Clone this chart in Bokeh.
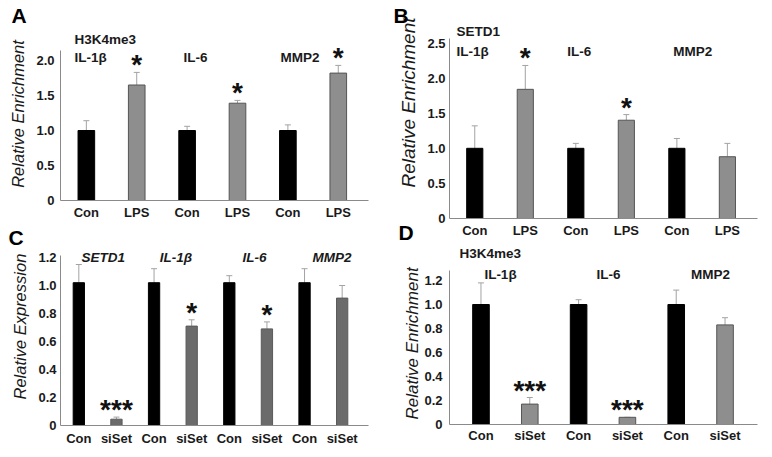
from bokeh.plotting import figure
from bokeh.models import ColumnDataSource, Whisker, TeeHead, Label, FixedTicker, Range1d, Title
from bokeh.layouts import row, column
from bokeh.core.properties import value
from bokeh.embed import file_html
from bokeh.resources import INLINE

FONT = "Liberation Sans"

# ---------------- data ----------------
# Panel A: H3K4me3 ChIP, Con vs LPS
a_groups = ["Con", "LPS", "Con", "LPS", "Con", "LPS"]
a_values = [1.00, 1.65, 1.00, 1.39, 1.00, 1.82]
a_errors = [0.14, 0.18, 0.06, 0.04, 0.08, 0.11]
a_marks = ["", "*", "", "*", "", "*"]
a_yticks = [0, 0.5, 1.0, 1.5, 2.0]
a_ylabels = ["0", "0.5", "1.0", "1.5", "2.0"]
a_genes = ["IL-1β", "IL-6", "MMP2"]

# Panel B: SETD1 ChIP, Con vs LPS
b_groups = ["Con", "LPS", "Con", "LPS", "Con", "LPS"]
b_values = [1.00, 1.84, 1.00, 1.40, 1.00, 0.88]
b_errors = [0.32, 0.34, 0.07, 0.08, 0.14, 0.19]
b_marks = ["", "*", "", "*", "", ""]
b_yticks = [0, 0.5, 1.0, 1.5, 2.0, 2.5]
b_ylabels = ["0", "0.5", "1.0", "1.5", "2.0", "2.5"]
b_genes = ["IL-1β", "IL-6", "MMP2"]

# Panel C: expression, Con vs siSet
c_groups = ["Con", "siSet", "Con", "siSet", "Con", "siSet", "Con", "siSet"]
c_values = [1.02, 0.045, 1.02, 0.71, 1.02, 0.69, 1.02, 0.91]
c_errors = [0.13, 0.015, 0.10, 0.045, 0.05, 0.05, 0.10, 0.09]
c_marks = ["", "***", "", "*", "", "*", "", ""]
c_yticks = [0, 0.2, 0.4, 0.6, 0.8, 1.0, 1.2]
c_ylabels = ["0", "0.2", "0.4", "0.6", "0.8", "1.0", "1.2"]
c_genes = ["SETD1", "IL-1β", "IL-6", "MMP2"]

# Panel D: H3K4me3 ChIP, Con vs siSet
d_groups = ["Con", "siSet", "Con", "siSet", "Con", "siSet"]
d_values = [1.00, 0.17, 1.00, 0.06, 1.00, 0.83]
d_errors = [0.18, 0.055, 0.04, 0.0, 0.12, 0.06]
d_marks = ["", "***", "", "***", "", ""]
d_yticks = [0, 0.2, 0.4, 0.6, 0.8, 1.0, 1.2]
d_ylabels = ["0", "0.2", "0.4", "0.6", "0.8", "1.0", "1.2"]
d_genes = ["IL-1β", "IL-6", "MMP2"]


def lab(p, text, sx, sy, size="13.5px", style="bold", align="left"):
    p.add_layout(Label(x=sx, y=sy, x_units="screen", y_units="screen", text=text,
                       text_font=FONT, text_font_size=size, text_font_style=style,
                       text_align=align, text_baseline="middle",
                       text_color="#1a1a1a"))


def panel(w, h, ml, mr, mt, mb, xr, ytop, ybound, groups, values, errors, marks,
          yticks, ylabels, treat_fill, treat_line, bar_w, xstand, ystand,
          letter, letter_off, ytitle, ytitle_size, ytitle_off, ytitle_standoff,
          ytitle_valign):
    p = figure(width=w, height=h, x_range=Range1d(*xr), y_range=Range1d(0, ytop),
               toolbar_location=None, output_backend="svg",
               min_border_left=ml, min_border_right=mr,
               min_border_top=mt, min_border_bottom=mb)
    p.outline_line_color = None
    p.xgrid.visible = False
    p.ygrid.visible = False
    p.background_fill_color = None
    p.border_fill_color = None
    n = len(groups)
    xs = list(range(n))
    fills = ["#000000" if g == "Con" else treat_fill for g in groups]
    lines = ["#000000" if g == "Con" else treat_line for g in groups]
    upper = [v + e for v, e in zip(values, errors)]
    src = ColumnDataSource(dict(x=xs, val=values, upper=upper, fill=fills,
                                line=lines, mark=marks))
    p.add_layout(Whisker(source=src, base="x", upper="upper", lower="val",
                         dimension="height", line_color="#a3a3a3", line_width=1,
                         upper_head=TeeHead(size=6, line_color="#a3a3a3", line_width=1),
                         lower_head=None, level="underlay"))
    p.vbar(x="x", top="val", bottom=0, width=bar_w, fill_color="fill",
           line_color="line", line_width=1, source=src)
    p.text(x="x", y="upper", text="mark", source=src, text_font=value(FONT),
           text_font_style="bold", text_font_size="28px", text_align="center",
           text_baseline="alphabetic", y_offset=-7.5, text_color="#111111")
    for ax in (p.xaxis[0], p.yaxis[0]):
        ax.axis_line_color = "#8a8a8a"
        ax.axis_line_width = 1
        ax.major_tick_line_color = None
        ax.minor_tick_line_color = None
        ax.major_tick_out = 0
        ax.major_tick_in = 0
        ax.minor_tick_out = 0
        ax.minor_tick_in = 0
        ax.major_label_text_font = FONT
        ax.major_label_text_font_style = "bold"
        ax.major_label_text_font_size = "13px"
        ax.major_label_text_color = "#1a1a1a"
    p.xaxis.ticker = FixedTicker(ticks=xs)
    p.xaxis.major_label_overrides = {i: g for i, g in enumerate(groups)}
    p.xaxis.major_label_standoff = xstand
    p.yaxis.ticker = FixedTicker(ticks=yticks)
    p.yaxis.major_label_overrides = {t: s for t, s in zip(yticks, ylabels)}
    p.yaxis.major_label_standoff = ystand
    p.yaxis.bounds = (0, ybound)
    # panel letter
    p.title.text = letter
    p.title.align = "left"
    p.title.offset = letter_off
    p.title.standoff = 0
    p.title.vertical_align = "bottom"
    p.title.text_font = FONT
    p.title.text_font_size = "21px"
    p.title.text_font_style = "bold"
    p.title.text_color = "#000000"
    # y-axis title
    p.add_layout(Title(text=ytitle, align="left", offset=ytitle_off,
                       standoff=ytitle_standoff, vertical_align=ytitle_valign,
                       text_font=FONT, text_font_size=ytitle_size,
                       text_font_style="italic", text_color="#1a1a1a"), "left")
    return p


# Panel A  canvas (0,0) 390x222, frame x 59..375, y 26..200
pA = panel(390, 222, 59, 15, 26, 22, (-0.513, 5.6), 174 / 70.0, 2.14,
           a_groups, a_values, a_errors, a_marks, a_yticks, a_ylabels,
           "#8e8e8e", "#555555", 0.33, 4, 6,
           "A", -49, "Relative Enrichment", "16.5px", 12.7, 13, "bottom")
lab(pA, "H3K4me3", 14, 161)
lab(pA, a_genes[0], 14, 143)
lab(pA, a_genes[1], 123, 143)
lab(pA, a_genes[2], 220, 143)

# Panel B  canvas (390,0) 382x240, frame x 448..765, y 26..218
pB = panel(382, 240, 58, 7, 26, 22, (-0.5, 5.596), 192 / 70.2, 2.56,
           b_groups, b_values, b_errors, b_marks, b_yticks, b_ylabels,
           "#8e8e8e", "#555555", 0.32, 4, 4,
           "B", -56, "Relative Enrichment", "19px", 31, 11, "bottom")
lab(pB, "SETD1", 7, 187)
lab(pB, b_genes[0], 7, 167)
lab(pB, b_genes[1], 117.7, 167)
lab(pB, b_genes[2], 223.7, 167)

# Panel C  canvas (0,222) 390x235, frame x 57..368, y 248..425
pC = panel(390, 235, 57, 22, 26, 32, (-0.487, 7.70), 177 / 140.0, 1.214,
           c_groups, c_values, c_errors, c_marks, c_yticks, c_ylabels,
           "#6b6b6b", "#5a5a5a", 0.30, 5, 4,
           "C", -52, "Relative Expression", "16.5px", 26, 13, "bottom")
lab(pC, c_genes[0], 42.7, 167.7, style="bold italic", align="center")
lab(pC, c_genes[1], 115.5, 167.7, style="bold italic", align="center")
lab(pC, c_genes[2], 194, 167.7, style="bold italic", align="center")
lab(pC, c_genes[3], 271.5, 167.7, style="bold italic", align="center")

# Panel D  canvas (390,217) 382x240, frame x 444..757, y 243..424
pD = panel(382, 240, 54, 15, 26, 33, (-0.645, 5.665), 181 / 120.0, 1.283,
           d_groups, d_values, d_errors, d_marks, d_yticks, d_ylabels,
           "#8e8e8e", "#555555", 0.34, 3, 7,
           "D", -51, "Relative Enrichment", "17px", 5, 0, "bottom")
pD.margin = (-23, 0, 0, 0)
lab(pD, "H3K4me3", 10, 171)
lab(pD, d_genes[0], 51, 150, align="center")
lab(pD, d_genes[1], 159, 150, align="center")
lab(pD, d_genes[2], 261, 150, align="center")

layout = row(column(pA, pC), column(pB, pD))
open("out.html", "w").write(file_html(layout, INLINE))
